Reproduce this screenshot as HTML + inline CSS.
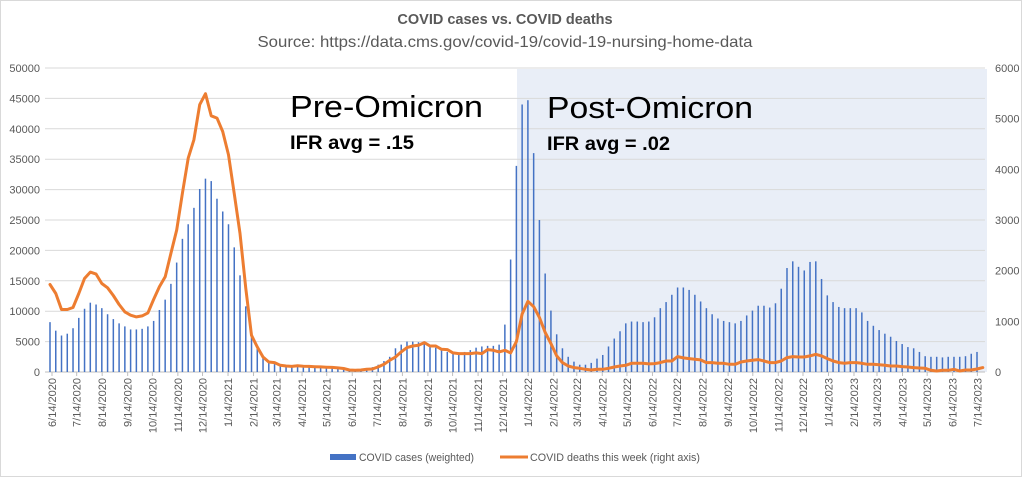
<!DOCTYPE html>
<html><head><meta charset="utf-8">
<style>
html,body{margin:0;padding:0;background:#fff;}
svg{display:block;font-family:"Liberation Sans",sans-serif;}
</style></head>
<body>
<svg id="chart" width="1022" height="480" viewBox="0 0 1022 480">
<rect x="0.5" y="0.5" width="1021" height="476" fill="#fff" stroke="#d9d9d9"/>
<text x="505" y="24" text-anchor="middle" font-size="14.5" font-weight="bold" fill="#595959">COVID cases vs. COVID deaths</text>
<text x="505" y="47" text-anchor="middle" font-size="16" fill="#595959" textLength="495" lengthAdjust="spacingAndGlyphs">Source: https://data.cms.gov/covid-19/covid-19-nursing-home-data</text>
<rect x="517" y="69" width="470" height="303" fill="#e9eef7"/>
<g id="grid"></g>
<g id="bars"></g>
<g id="line"></g>
<g id="axes"></g>
<text x="290" y="117" font-size="31" fill="#000" textLength="193" lengthAdjust="spacingAndGlyphs">Pre-Omicron</text>
<text x="290" y="149" font-size="19" font-weight="bold" fill="#000" textLength="124" lengthAdjust="spacingAndGlyphs">IFR avg = .15</text>
<text x="547" y="118" font-size="31" fill="#000" textLength="206" lengthAdjust="spacingAndGlyphs">Post-Omicron</text>
<text x="547" y="150" font-size="19" font-weight="bold" fill="#000" textLength="123" lengthAdjust="spacingAndGlyphs">IFR avg = .02</text>
<g>
<rect x="330" y="454" width="26" height="6" fill="#4472c4"/>
<text x="359" y="461" font-size="11" fill="#595959" textLength="115" lengthAdjust="spacingAndGlyphs">COVID cases (weighted)</text>
<line x1="500" y1="457" x2="528" y2="457" stroke="#ed7d31" stroke-width="3"/>
<text x="530" y="461" font-size="11" fill="#595959" textLength="170" lengthAdjust="spacingAndGlyphs">COVID deaths this week (right axis)</text>
</g>
</svg>
<script>
const cases = [8.2,6.8,6.0,6.3,7.2,8.9,10.4,11.4,11.1,10.5,9.5,8.7,8.0,7.5,7.0,7.0,7.1,7.5,8.4,10.2,11.9,14.5,18.0,21.9,24.3,27.0,30.1,31.8,31.4,28.5,26.4,24.3,20.5,15.9,10.8,6.5,4.0,2.3,1.6,1.3,1.2,1.0,1.0,1.1,1.0,1.0,0.9,0.9,0.8,0.7,0.6,0.5,0.4,0.4,0.5,0.6,0.8,1.2,1.8,2.5,3.9,4.5,5.0,5.0,4.9,4.8,4.4,4.0,3.6,3.3,3.1,3.2,3.3,3.6,4.0,4.2,4.3,4.3,4.5,7.8,18.5,33.9,44.0,44.7,36.0,25.0,16.2,10.1,6.2,3.9,2.5,1.7,1.2,1.2,1.5,2.2,2.8,4.2,5.5,6.7,8.0,8.3,8.3,8.2,8.3,9.0,10.5,11.5,12.7,13.9,13.9,13.5,12.7,11.6,10.5,9.5,8.8,8.4,8.2,8.0,8.4,9.3,10.1,10.9,10.9,10.6,11.3,13.7,17.1,18.2,17.3,16.7,18.1,18.2,15.3,12.6,11.5,10.7,10.5,10.5,10.5,9.8,8.4,7.6,6.9,6.3,5.8,5.1,4.6,4.1,3.9,3.3,2.6,2.5,2.5,2.4,2.5,2.5,2.5,2.6,3.0,3.3];
const deaths = [1727,1550,1233,1233,1273,1550,1846,1971,1932,1747,1662,1510,1332,1187,1121,1088,1108,1167,1431,1681,1879,2341,2802,3527,4220,4582,5275,5492,5057,5011,4747,4286,3527,2736,1648,725,494,297,198,185,132,119,110,125,115,110,105,100,95,90,80,70,40,33,40,53,60,100,152,230,297,396,481,514,527,580,514,514,448,442,376,363,363,363,376,363,442,429,396,429,376,600,1143,1394,1288,1077,780,562,317,185,119,86,73,53,40,53,53,73,99,119,132,172,172,172,159,165,185,218,218,304,278,264,251,238,185,185,172,172,152,152,198,218,231,244,218,185,185,218,284,304,297,297,317,350,317,264,218,185,172,185,185,172,152,152,145,132,119,119,106,99,86,79,73,33,20,33,33,53,20,40,40,60,86];
const leftTicks = [0,5000,10000,15000,20000,25000,30000,35000,40000,45000,50000];
const rightTicks = [0,1000,2000,3000,4000,5000,6000];
const xLabels = ["6/14/2020","7/14/2020","8/14/2020","9/14/2020","10/14/2020","11/14/2020","12/14/2020","1/14/2021","2/14/2021","3/14/2021","4/14/2021","5/14/2021","6/14/2021","7/14/2021","8/14/2021","9/14/2021","10/14/2021","11/14/2021","12/14/2021","1/14/2022","2/14/2022","3/14/2022","4/14/2022","5/14/2022","6/14/2022","7/14/2022","8/14/2022","9/14/2022","10/14/2022","11/14/2022","12/14/2022","1/14/2023","2/14/2023","3/14/2023","4/14/2023","5/14/2023","6/14/2023","7/14/2023"];

const NS = "http://www.w3.org/2000/svg";
const X0 = 50, X1 = 977, Y0 = 372, Y1 = 68;
function xIdx(i){ return X0 + i*(X1-X0)/(cases.length-1); }
function yL(v){ return Y0 - v/50000*(Y0-Y1); }
function yR(v){ return Y0 - v/6000*(Y0-Y1); }
function mk(tag, attrs, parent){ const e=document.createElementNS(NS,tag); for(const k in attrs) e.setAttribute(k,attrs[k]); parent.appendChild(e); return e; }

const grid=document.getElementById('grid'), axes=document.getElementById('axes');
leftTicks.forEach(t=>{
  const y=yL(t);
  const g=mk('line',{x1:45,x2:985,y1:y,y2:y,stroke:t===0?'#bfbfbf':'#d9d9d9','stroke-width':1},grid);
  
  
  const tx=mk('text',{x:40,y:y+4,'text-anchor':'end','font-size':11,fill:'#595959'},axes);
  tx.textContent=t;
  
  
});
rightTicks.forEach(t=>{
  const y=yR(t);
  const tx=mk('text',{x:995,y:y+4,'font-size':11,fill:'#595959'},axes);
  tx.textContent=t;
  
  
});
const t0 = Date.UTC(2020,5,14);
xLabels.forEach(s=>{
  const p=s.split('/'); const d=Date.UTC(+p[2],+p[0]-1,+p[1]);
  const idx=(d-t0)/86400000/7;
  const x=xIdx(idx)+2;
  const tx=mk('text',{x:0,y:0,'text-anchor':'end','font-size':11,fill:'#595959',transform:`translate(${x+4},378) rotate(-90)`},axes);
  tx.textContent=s;
  
  
  const tk=mk('line',{x1:x,x2:x,y1:372,y2:376,stroke:'#bfbfbf'},axes);
  
  
});
const bars=document.getElementById('bars');
cases.forEach((v,i)=>{
  const x=xIdx(i), y=yL(v*1000);
  const r=mk('rect',{x:x-0.75,y:y,width:1.5,height:Y0-y,fill:'#4472c4'},bars);
  
  
});
let d='';
deaths.forEach((v,i)=>{ d+=(i?'L':'M')+xIdx(i).toFixed(1)+','+yR(v).toFixed(1); });
const pl=mk('path',{d:d,fill:'none',stroke:'#ed7d31','stroke-width':3,'stroke-linejoin':'round','stroke-linecap':'round'},document.getElementById('line'));


</script>
</body></html>
